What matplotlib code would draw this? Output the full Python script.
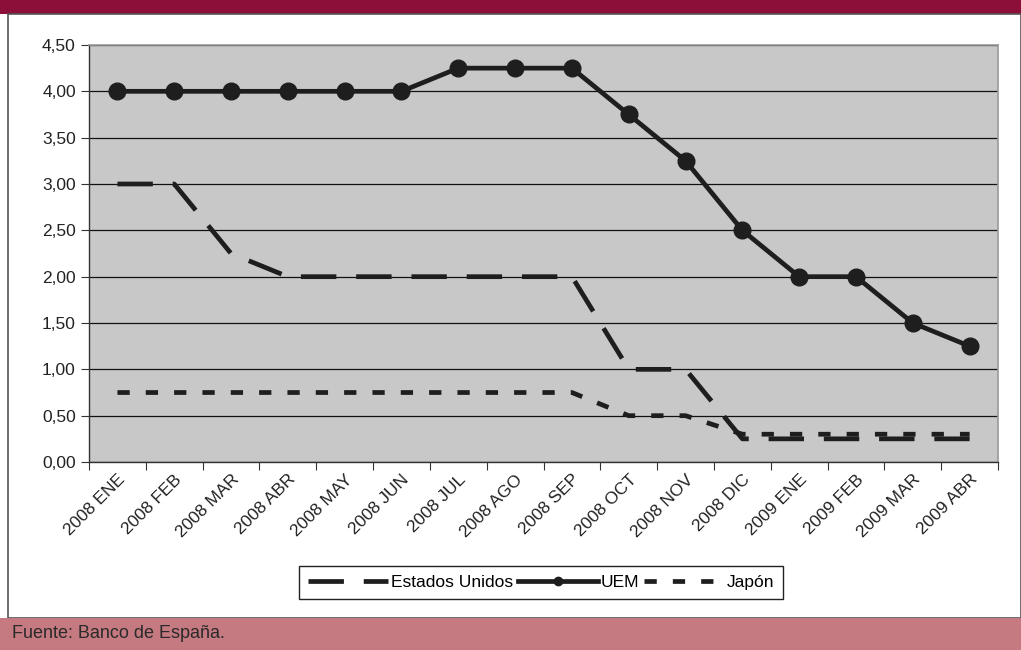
import matplotlib.pyplot as plt
from matplotlib.patches import Rectangle
from matplotlib.ticker import FuncFormatter, FixedLocator

plt.rcParams['font.family'] = ['Liberation Sans', 'DejaVu Sans']

meses = ['2008 ENE', '2008 FEB', '2008 MAR', '2008 ABR', '2008 MAY', '2008 JUN',
         '2008 JUL', '2008 AGO', '2008 SEP', '2008 OCT', '2008 NOV', '2008 DIC',
         '2009 ENE', '2009 FEB', '2009 MAR', '2009 ABR']
estados_unidos = [3.00, 3.00, 2.25, 2.00, 2.00, 2.00, 2.00, 2.00, 2.00, 1.00, 1.00, 0.25,
                  0.25, 0.25, 0.25, 0.25]
uem = [4.00, 4.00, 4.00, 4.00, 4.00, 4.00, 4.25, 4.25, 4.25, 3.75, 3.25, 2.50,
       2.00, 2.00, 1.50, 1.25]
japon = [0.75, 0.75, 0.75, 0.75, 0.75, 0.75, 0.75, 0.75, 0.75, 0.50, 0.50, 0.30,
         0.30, 0.30, 0.30, 0.30]

fig = plt.figure(figsize=(10.21, 6.5), dpi=100)

# marco: banda superior, panel blanco y pie de fuente (detras de los ejes)
fig.patches.append(Rectangle((0, 0.978), 1, 0.022, transform=fig.transFigure,
                             facecolor='#8c0f3a', edgecolor='none', zorder=-2))
fig.patches.append(Rectangle((0.008, 0.05), 0.992, 0.928, transform=fig.transFigure,
                             facecolor='white', edgecolor='#555555', lw=1.2, zorder=-2))
fig.patches.append(Rectangle((0, 0), 1, 0.05, transform=fig.transFigure,
                             facecolor='#c47a80', edgecolor='none', zorder=-2))
fig.text(0.012, 0.025, 'Fuente: Banco de España.', fontsize=13, color='#2a2a2a',
         va='center', ha='left')

ax = fig.add_axes([0.0872, 0.2892, 0.8903, 0.6416])
ax.set_facecolor('#c8c8c8')
x = range(len(meses))

ax.plot(x, estados_unidos, color='#1e1e1e', lw=3.4, linestyle=(0, (7.5, 4.2)),
        label='Estados Unidos', zorder=3)
ax.plot(x, uem, color='#1e1e1e', lw=3.4, marker='o', markersize=12,
        label='UEM', zorder=4)
ax.plot(x, japon, color='#1e1e1e', lw=3.4, linestyle=(0, (2.6, 3.4)),
        label='Japón', zorder=3)

ax.set_xlim(-0.5, len(meses) - 0.5)
ax.set_ylim(0, 4.5)
ax.set_yticks([i * 0.5 for i in range(10)])
ax.yaxis.set_major_formatter(FuncFormatter(lambda v, p: f'{v:.2f}'.replace('.', ',')))
ax.grid(axis='y', color='#111111', lw=0.9)
ax.set_axisbelow(True)

ax.xaxis.set_major_locator(FixedLocator([i - 0.5 for i in range(len(meses) + 1)]))
ax.xaxis.set_major_formatter(FuncFormatter(lambda v, p: ''))
ax.set_xticks(list(x), minor=True)
ax.set_xticklabels(meses, minor=True, rotation=45, ha='right', rotation_mode='anchor',
                   fontsize=12.5, color='#222222')
ax.tick_params(axis='x', which='minor', length=0, pad=7)
ax.tick_params(axis='x', which='major', length=6, color='#333333')
ax.tick_params(axis='y', length=6, color='#333333', labelsize=12.5, labelcolor='#222222')

for s in ['top', 'right']:
    ax.spines[s].set_color('#999999')
    ax.spines[s].set_linewidth(1.2)
for s in ['left', 'bottom']:
    ax.spines[s].set_color('#333333')
    ax.spines[s].set_linewidth(1.0)

leg = fig.legend(loc='center', bbox_to_anchor=(0.53, 0.104), ncol=3, fontsize=12.5,
                 frameon=True, fancybox=False, edgecolor='#222222', framealpha=1,
                 handlelength=4.6, handletextpad=0.15, columnspacing=0.3,
                 borderpad=0.5, markerscale=0.5)
leg.get_frame().set_linewidth(1.0)

fig.savefig('out.png', dpi=100)
